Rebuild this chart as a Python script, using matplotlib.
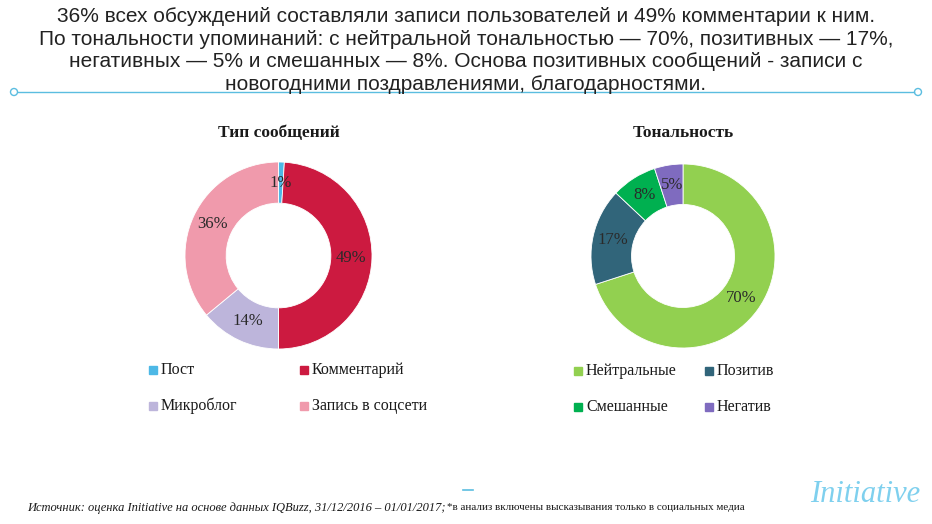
import matplotlib.pyplot as plt
from matplotlib.patches import Circle

# data
type_labels = ['Пост', 'Комментарий', 'Микроблог', 'Запись в соцсети']
type_values = [1, 49, 14, 36]
type_colors = ['#4db8e6', '#cc1a40', '#bdb5db', '#f09aac']

tone_labels = ['Нейтральные', 'Позитив', 'Смешанные', 'Негатив']
tone_values = [70, 17, 8, 5]
tone_colors = ['#92d050', '#31657a', '#00b050', '#7f6bbf']

header = ('36% всех обсуждений составляли записи пользователей и 49% комментарии к ним.\n'
          'По тональности упоминаний: с нейтральной тональностью — 70%, позитивных — 17%,\n'
          'негативных — 5% и смешанных — 8%. Основа позитивных сообщений - записи с\n'
          'новогодними поздравлениями, благодарностями.')
source_it = 'Источник: оценка Initiative на основе данных IQBuzz, 31/12/2016 – 01/01/2017;'
source_up = '*в анализ включены высказывания только в социальных медиа'

W, H = 932, 524
fig = plt.figure(figsize=(W / 100, H / 100), dpi=100)
sans = ['Liberation Sans', 'DejaVu Sans']
serif = ['Liberation Serif', 'DejaVu Serif']


def px_axes(x, y, w, h):
    # pixel box from top-left corner
    return fig.add_axes([x / W, 1 - (y + h) / H, w / W, h / H])


# background axes in pixel coords
bg = px_axes(0, 0, W, H)
bg.set_xlim(0, W)
bg.set_ylim(H, 0)
bg.axis('off')

# header text
bg.text(W / 2, 50.5, header, ha='center', va='center', family=sans,
        fontsize=15, color='#222222', linespacing=1.24)

# blue rule with little circles
bg.plot([18, 914], [92, 92], color='#5bbde0', lw=1)
for cx in (14, 918):
    bg.add_patch(Circle((cx, 92), 3.5, fill=False, ec='#5bbde0', lw=1))
bg.plot([463, 473], [490, 490], color='#5bbde0', lw=1.2)


def donut(cx, cy, r, values, colors, labels, title, legx, legy):
    ax = px_axes(cx - 100, cy - 100, 200, 200)
    rad = r / 100
    ax.pie(values, colors=colors, startangle=90, counterclock=False,
           radius=rad, autopct='%d%%', pctdistance=0.78,
           wedgeprops=dict(width=rad * 0.44, edgecolor='white', linewidth=0.6),
           textprops=dict(family=serif, fontsize=12, color='#2a2a2a'))
    ax.set_xlim(-1, 1)
    ax.set_ylim(-1, 1)
    ax.set_aspect('equal')
    ax.axis('off')
    bg.text(cx, 133, title, ha='center', va='center', family=serif,
            fontsize=12.5, fontweight='bold', color='#1a1a1a')
    for i, (lab, col) in enumerate(zip(labels, colors)):
        x = legx[i % 2]
        y = legy[i // 2]
        bg.add_patch(plt.Rectangle((x - 4, y - 4), 8, 8, color=col))
        bg.text(x + 8, y, lab, ha='left', va='center', family=serif, fontsize=11.5, color='#1a1a1a')


donut(278.5, 255.5, 93.5, type_values, type_colors, type_labels, 'Тип сообщений',
      [153, 304], [370, 406])
donut(683, 256, 92, tone_values, tone_colors, tone_labels, 'Тональность',
      [578, 709], [371, 407])

# footer
t1 = bg.text(27, 508, source_it, ha='left', va='center', family=serif, fontsize=9,
             style='italic', color='#1a1a1a')
bg.annotate(source_up, xy=(1, 0.5), xycoords=t1, xytext=(1, 0), textcoords='offset points',
            ha='left', va='center', family=serif, fontsize=7.9, color='#1a1a1a')

# logo
bg.text(865, 494, 'Initiative', ha='center', va='center', family=serif, fontsize=22,
        style='italic', color='#7fd0ee')

fig.savefig('out.png', dpi=100)
